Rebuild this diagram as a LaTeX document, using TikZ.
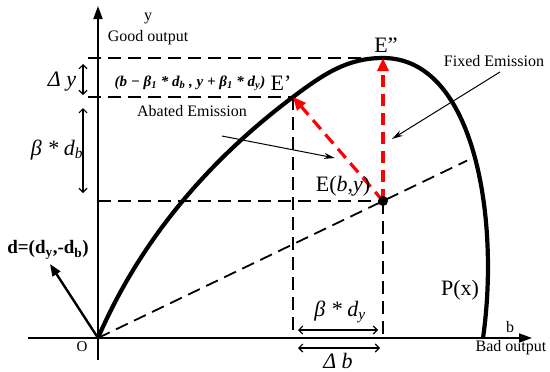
\documentclass[tikz,border=0pt]{standalone}
\usepackage{fontspec}
\setmainfont{Liberation Serif}
\usetikzlibrary{arrows.meta,calc}

\tikzset{
	axis/.style={line width=1.8pt,-{Triangle[length=13pt,width=9pt]}},
	guide/.style={line width=1.8pt,dash pattern=on 13pt off 7pt},
	redmove/.style={red,line width=3.2pt,dash pattern=on 12pt off 7pt,-{Triangle[length=13pt,width=11pt]}},
	dimarrow/.style={line width=1.1pt,{Straight Barb[length=4pt,width=8pt]}-{Straight Barb[length=4pt,width=8pt]}},
	pointer/.style={line width=1pt,-{Stealth[length=11pt,width=6pt]}},
	txt/.style={font=\fontsize{16}{18}\selectfont},
	bigtxt/.style={font=\fontsize{22}{24}\selectfont},
}

\begin{document}
\begin{tikzpicture}[x=1pt,y=-1pt,line join=round]
	\useasboundingbox (0,0) rectangle (550,372);
	
	\coordinate (O) at (98,338);
	\coordinate (E) at (383,201);
	\coordinate (E1) at (293,97);
	\coordinate (E2) at (383,58);
	\coordinate (Pb) at (483,338);
	
	% axes
	\draw[axis] (28,338) -- (532,338) coordinate (xtip);
	\draw[axis] (98,360) -- (98,6) coordinate (ytip);
	
	% guide lines
	\draw[guide] (88,58) -- (E2);
	\draw[guide] (88,97) -- (E1);
	\draw[guide] (O |- E) -- (E);
	\draw[guide] (E1) -- (E1 |- O);
	\draw[guide] (E) -- (E |- O);
	\draw[guide] (O) -- ($(O)!1.295!(E)$);
	
	% frontier P(x)
	\draw[line width=4.2pt] (O) .. controls (142,236) and (213,157) .. (E1)
		.. controls (325,73) and (348,58) .. (E2)
		.. controls (475,58) and (500,220) .. (Pb);
	
	% moves from E
	\draw[redmove] (E) -- (E1);
	\draw[redmove] (E) -- (E2);
	\fill (E) circle (5);
	
	% direction vector
	\coordinate (dtip) at (50,264);
	\draw[line width=2.4pt,-{Triangle[length=12pt,width=9pt]}] (O) -- (dtip);
	\node[font=\fontsize{19}{21}\selectfont\bfseries] (dvec) at (48,250) {d=(d\textsubscript{y},-d\textsubscript{b})};
	
	% labels
	\node[txt] (ylab) at (148,19) {y};
	\node[txt] (ygood) at (148,38) {Good output};
	\node[txt] (xlab) at (510,327) {b};
	\node[txt] (xbad) at (511,348) {Bad output};
	\node[font=\fontsize{15}{17}\selectfont] (olab) at (82,347) {O};
	\node[bigtxt] (Elab) at (343,186) {E(\textit{b},\textit{y})};
	\node[bigtxt] (E1lab) at (281,83) {E’};
	\node[bigtxt] (E2lab) at (386,45) {E”};
	\node[bigtxt] (Plab) at (460,290) {P(x)};
	\node[font=\fontsize{15}{17}\selectfont\bfseries\itshape] (form) at (190,83)
		{(b − β\textsubscript{1} * d\textsubscript{b} , y + β\textsubscript{1} * d\textsubscript{y})};
	
	% dimensions
	\coordinate (dya) at (83,64);
	\coordinate (dyb) at (83,95);
	\coordinate (dba) at (83,108);
	\coordinate (dbb) at (83,193);
	\coordinate (bya) at (298,330);
	\coordinate (byb) at (378,330);
	\coordinate (bba) at (298,348);
	\coordinate (bbb) at (380,348);
	\draw[dimarrow] (dya) -- (dyb);
	\draw[dimarrow] (dba) -- (dbb);
	\draw[dimarrow] (bya) -- (byb);
	\draw[dimarrow] (bba) -- (bbb);
	\node[bigtxt,font=\fontsize{22}{24}\selectfont\itshape] (dylab) at (62,82) {Δ y};
	\node[bigtxt,font=\fontsize{22}{24}\selectfont\itshape] (bdblab) at (57,150) {β * d\textsubscript{b}};
	\node[bigtxt,font=\fontsize{22}{24}\selectfont\itshape] (bdylab) at (340,312) {β * d\textsubscript{y}};
	\node[bigtxt,font=\fontsize{22}{24}\selectfont\itshape] (dblab) at (338,361) {Δ b};
	
	% emission notes
	\node[txt] (fixed) at (494,61) {Fixed Emission};
	\node[txt] (abated) at (192,111) {Abated Emission};
	\coordinate (fixtail) at (500,72);
	\coordinate (fixtip) at (392,139);
	\coordinate (abtail) at (222,136);
	\coordinate (abtip) at (335,158);
	\draw[pointer] (fixtail) -- (fixtip);
	\draw[pointer] (abtail) -- (abtip);
\end{tikzpicture}
\end{document}
